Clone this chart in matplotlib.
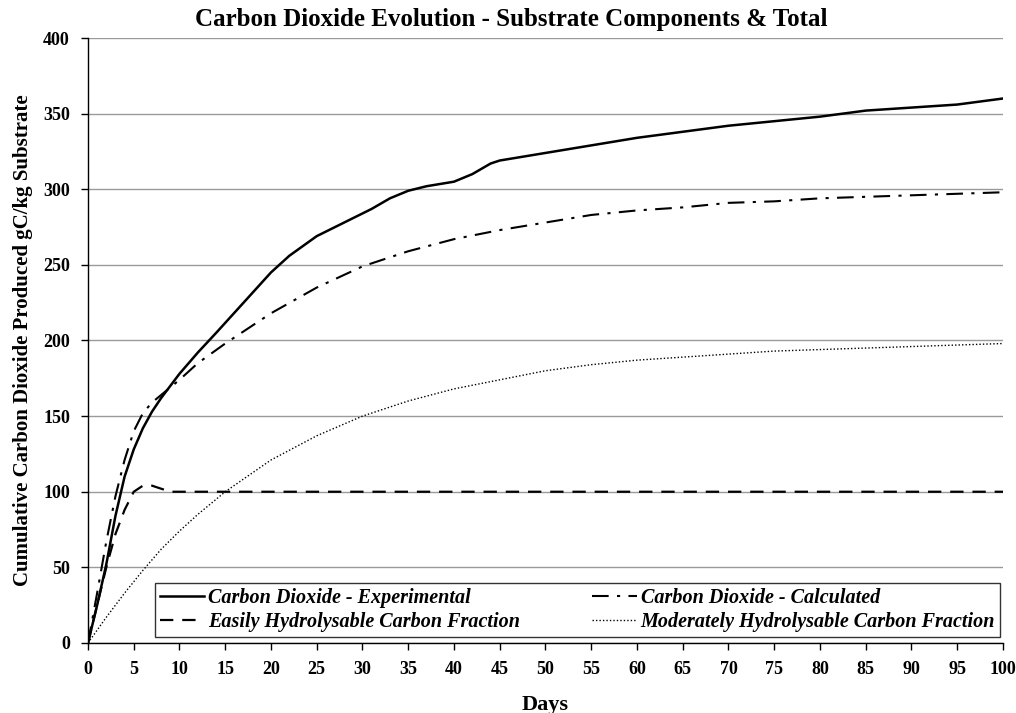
import matplotlib.pyplot as plt
import numpy as np

# Cumulative CO2 produced (gC/kg substrate)
days_exp = [0, 1, 2, 3, 4, 5, 6, 7, 8, 10, 12, 14, 17, 20, 22, 25, 28, 31, 33, 35, 37, 40, 42, 44,
            45, 48, 50, 55, 60, 65, 70, 75, 80, 85, 90, 95, 100]
co2_exp = [0, 25, 52, 84, 110, 128, 142, 153, 162, 178, 192, 205, 225, 245, 256, 269, 278, 287, 294,
           299, 302, 305, 310, 317, 319, 322, 324, 329, 334, 338, 342, 345, 348, 352, 354, 356, 360]

days_calc = [0, 1, 2, 3, 4, 5, 6, 7, 8, 10, 12, 15, 20, 25, 30, 35, 40, 45, 50, 55, 60, 65, 70,
             75, 80, 85, 90, 95, 100]
co2_calc = [0, 33, 67, 97, 121, 140, 152, 159, 164, 174, 185, 198, 218, 235, 249, 259, 267, 273,
            278, 283, 286, 288, 291, 292, 294, 295, 296, 297, 298]

days_easy = [0, 1, 2, 3, 4, 5, 6, 7, 8, 9, 10, 20, 40, 60, 80, 100]
co2_easy = [0, 25, 50, 72, 88, 100, 104, 104, 102, 100, 100, 100, 100, 100, 100, 100]

days_mod = [0, 2, 4, 6, 8, 10, 12, 15, 20, 25, 30, 35, 40, 45, 50, 55, 60, 65, 70, 75, 80, 85,
            90, 95, 100]
co2_mod = [0, 17, 33, 48, 62, 74, 85, 100, 121, 137, 150, 160, 168, 174, 180, 184, 187, 189, 191,
           193, 194, 195, 196, 197, 198]

plt.rcParams['font.family'] = ['Liberation Serif', 'DejaVu Serif']
plt.rcParams['font.weight'] = 'bold'

fig = plt.figure(figsize=(10.16, 7.13), dpi=100)
ax = fig.add_axes([0.0866, 0.0982, 0.9006, 0.8485])

l_exp, = ax.plot(days_exp, co2_exp, color='black', lw=1.8, ls='-',
                 label='Carbon Dioxide - Experimental')
l_calc, = ax.plot(days_calc, co2_calc, color='black', lw=1.5, ls=(0, (8, 4, 1.5, 4)),
                  label='Carbon Dioxide - Calculated')
l_easy, = ax.plot(days_easy, co2_easy, color='black', lw=1.6, ls=(0, (6, 4)),
                  label='Easily Hydrolysable Carbon Fraction')
l_mod, = ax.plot(days_mod, co2_mod, color='black', lw=1.0, ls=(0, (1, 1.5)),
                 label='Moderately Hydrolysable Carbon Fraction')

ax.set_xlim(0, 100)
ax.set_ylim(0, 400)
ax.set_xticks(np.arange(0, 101, 5))
ax.set_yticks(np.arange(0, 401, 50))
ax.yaxis.grid(True, color='#9a9a9a', lw=1.0)
ax.set_axisbelow(True)
for s in ['top', 'right']:
    ax.spines[s].set_visible(False)
for s in ['left', 'bottom']:
    ax.spines[s].set_linewidth(1.0)
ax.tick_params(direction='out', length=5, width=1, labelsize=13, pad=8)
for lab in ax.get_xticklabels() + ax.get_yticklabels():
    lab.set_fontweight('bold')

# title is centred on the whole figure, not on the plot area
fig.text(0.503, 0.972, 'Carbon Dioxide Evolution - Substrate Components & Total', fontsize=18,
         fontweight='bold', ha='center', va='center')
ax.set_xlabel('Days', fontsize=16, fontweight='bold', labelpad=12)
ax.set_ylabel('Cumulative Carbon Dioxide Produced gC/kg Substrate', fontsize=15,
              fontweight='bold', labelpad=7)

# row-wise order: matplotlib fills legend columns first
handles = [l_exp, l_easy, l_calc, l_mod]
leg = ax.legend(handles=handles, labels=[h.get_label() for h in handles],
                loc='lower left', bbox_to_anchor=(0.073, 0.01, 0.924, 0.0875), mode='expand',
                ncol=2, frameon=True, fancybox=False, edgecolor='black', handlelength=2.2,
                handletextpad=0.2, borderpad=0.25, labelspacing=0.2, borderaxespad=0,
                prop={'style': 'italic', 'weight': 'bold', 'size': 14.5})
leg.get_frame().set_linewidth(1.0)

fig.savefig('out.png', dpi=100)
